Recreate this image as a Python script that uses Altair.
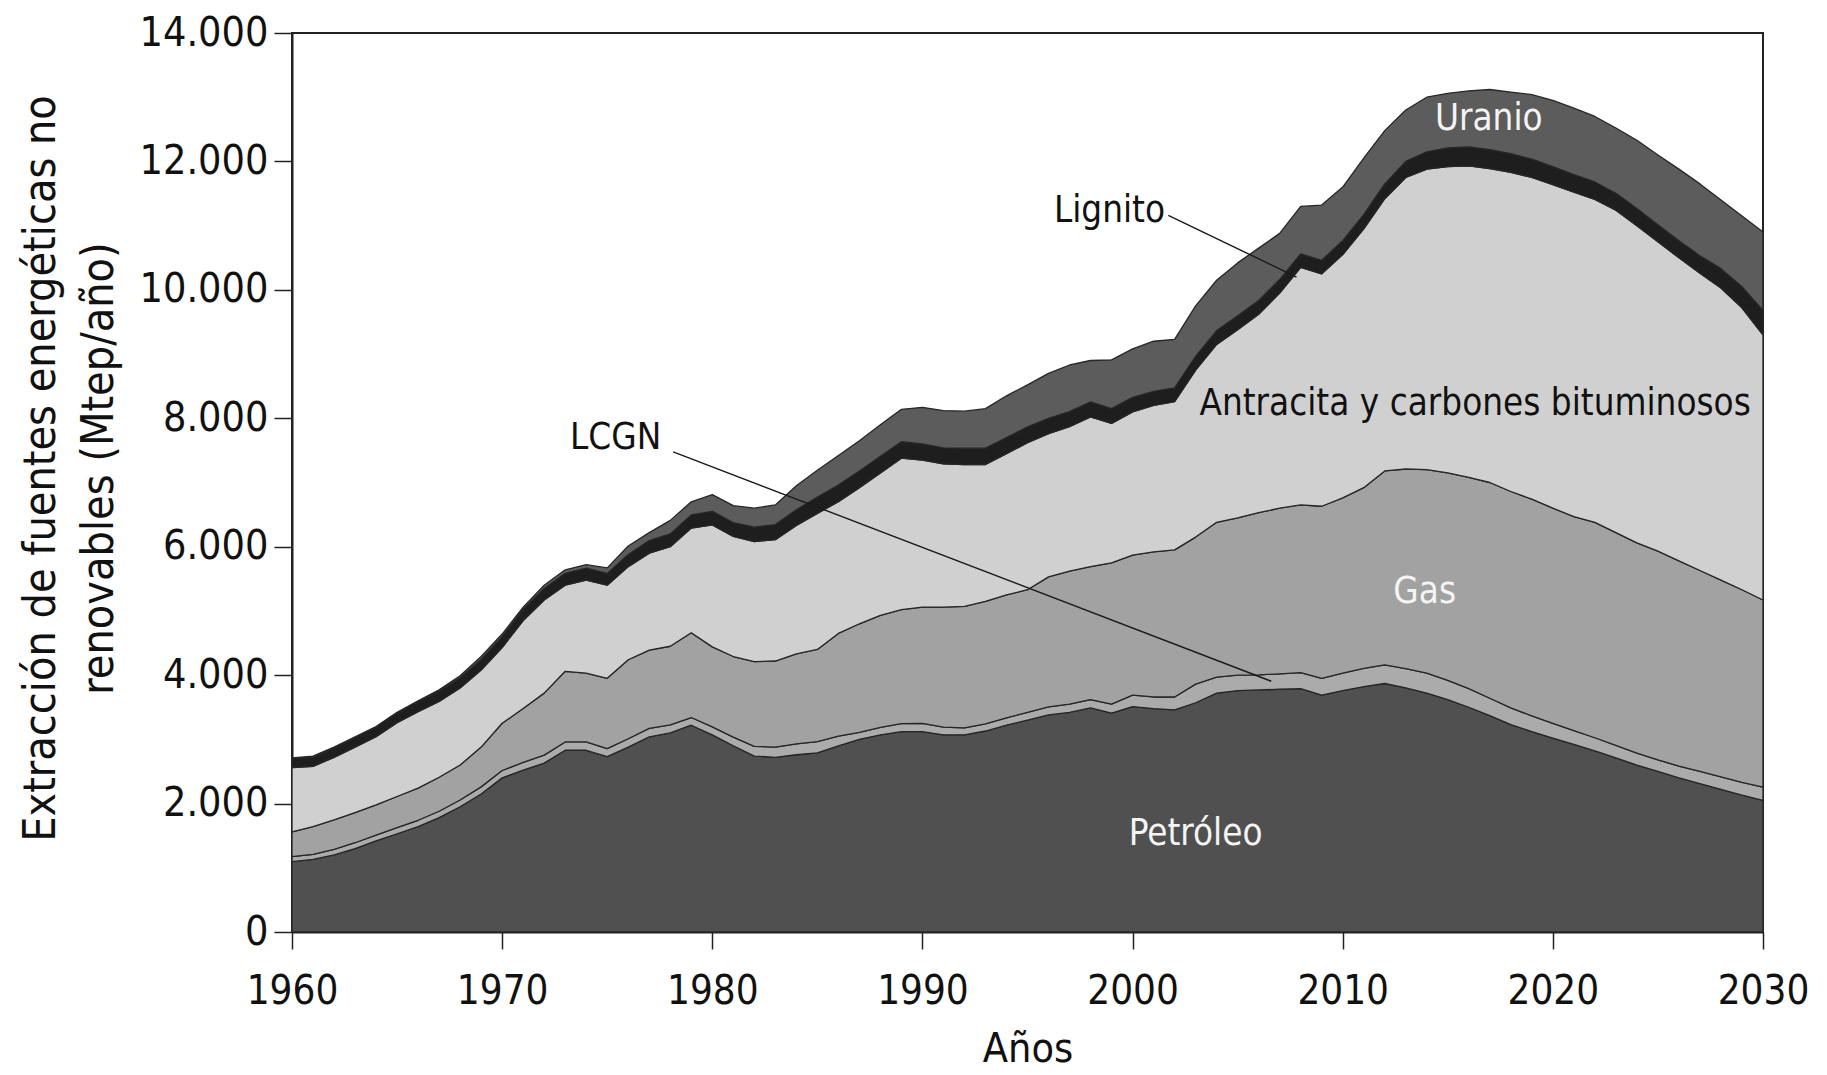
import altair as alt
import pandas as pd

years = list(range(1960, 2031))

petroleo = [1095, 1130, 1200, 1300, 1420, 1530, 1640, 1780, 1950, 2150,
            2400, 2520, 2630, 2830, 2830, 2730, 2880, 3040, 3100, 3220,
            3070, 2900, 2740, 2720, 2760, 2790, 2900, 3000, 3070, 3120,
            3120, 3070, 3070, 3130, 3220, 3300, 3380, 3420, 3490, 3410,
            3510, 3480, 3460, 3570, 3720, 3760, 3770, 3780, 3790, 3690,
            3760, 3820, 3870, 3800, 3720, 3620, 3500, 3370, 3230, 3120,
            3020, 2920, 2820, 2710, 2600, 2500, 2400, 2310, 2220, 2130,
            2050]
lcgn = [80, 80, 85, 90, 90, 95, 100, 100, 105, 110,
        115, 120, 125, 130, 130, 125, 130, 130, 125, 120,
        125, 135, 150, 160, 170, 175, 150, 110, 115, 125,
        130, 120, 110, 110, 115, 120, 125, 130, 130, 140,
        180, 180, 200, 290, 250, 240, 235, 240, 250, 260,
        270, 285, 290, 300, 310, 300, 290, 270, 260, 245,
        230, 215, 205, 195, 185, 180, 185, 190, 195, 200,
        205]
gas = [385, 430, 460, 470, 470, 485, 500, 530, 545, 620,
       735, 840, 965, 1100, 1070, 1095, 1230, 1220, 1225, 1320,
       1245, 1255, 1320, 1340, 1400, 1435, 1600, 1690, 1745, 1775,
       1810, 1870, 1890, 1910, 1915, 1910, 2025, 2070, 2070, 2200,
       2180, 2260, 2290, 2290, 2410, 2450, 2525, 2580, 2610, 2680,
       2730, 2815, 3020, 3110, 3170, 3230, 3290, 3360, 3370, 3375,
       3350, 3335, 3355, 3315, 3275, 3250, 3195, 3130, 3065, 3000,
       2915]
antracita = [1000, 940, 975, 1020, 1060, 1150, 1190, 1180, 1200, 1200,
             1180, 1370, 1450, 1340, 1450, 1450, 1450, 1510, 1550, 1630,
             1900, 1870, 1870, 1890, 2000, 2120, 2050, 2120, 2220, 2360,
             2290, 2230, 2210, 2130, 2200, 2290, 2230, 2250, 2330, 2170,
             2230, 2280, 2310, 2600, 2770, 2930, 3090, 3350, 3700, 3620,
             3790, 4030, 4240, 4540, 4680, 4770, 4850, 4890, 4970, 5010,
             5040, 5050, 5030, 5020, 4940, 4820, 4720, 4630, 4550, 4390,
             4130]
lignito = [140, 140, 145, 145, 150, 150, 155, 160, 160, 165,
           170, 175, 180, 185, 185, 185, 190, 195, 200, 205,
           210, 215, 225, 235, 245, 255, 260, 260, 260, 255,
           250, 250, 255, 255, 250, 245, 240, 235, 235, 230,
           225, 220, 215, 215, 215, 215, 215, 210, 210, 210,
           215, 220, 230, 250, 270, 290, 295, 295, 290, 285,
           280, 275, 270, 265, 265, 265, 265, 270, 300, 330,
           380]
uranio = [10, 20, 15, 15, 10, 10, 15, 20, 30, 45,
          40, 35, 50, 55, 55, 85, 130, 125, 210, 205,
          260, 265, 295, 305, 375, 415, 460, 470, 490, 505,
          570, 580, 575, 615, 650, 655, 700, 725, 645, 760,
          755, 780, 755, 785, 785, 825, 815, 720, 740, 860,
          835, 880, 830, 800, 850, 850, 875, 935, 960, 1005,
          1030, 1035, 1020, 1015, 1065, 1085, 1115, 1120, 1070, 1100,
          1220]

series = ["Petróleo", "LCGN", "Gas", "Antracita y carbones bituminosos", "Lignito", "Uranio"]
colors = ["#505050", "#ababab", "#a2a2a2", "#d0d0d0", "#1e1e1e", "#5c5c5c"]
values = [petroleo, lcgn, gas, antracita, lignito, uranio]

rows = []
for k, (name, vals) in enumerate(zip(series, values)):
    for yr, v in zip(years, vals):
        rows.append({"year": yr, "serie": name, "value": v, "ord": k})
df = pd.DataFrame(rows)

label_text = ["Uranio", "Lignito", "Antracita y carbones bituminosos", "LCGN", "Gas", "Petróleo"]
label_x = [2016.95, 1998.9, 2016.3, 1975.4, 2013.9, 2003.0]
label_y = [12660, 11230, 8224, 7695, 5296, 1526]
label_color = ["#f4f4f4", "#111111", "#111111", "#111111", "#f4f4f4", "#f4f4f4"]
labels = pd.DataFrame({"t": label_text, "x": label_x, "y": label_y, "c": label_color})

lead_x = [1978.14, 2001.7]
lead_y = [7477, 11160]
lead_x2 = [2006.6, 2007.8]
lead_y2 = [3905, 10200]
leaders = pd.DataFrame({"x": lead_x, "y": lead_y, "x2": lead_x2, "y2": lead_y2})

x_ticks = [1960, 1970, 1980, 1990, 2000, 2010, 2020, 2030]
y_ticks = [0, 2000, 4000, 6000, 8000, 10000, 12000, 14000]

FONT = "DejaVu Sans Condensed, Liberation Sans, sans-serif"

xscale = alt.Scale(domain=[1960, 2030], nice=False, zero=False)
yscale = alt.Scale(domain=[0, 14000], nice=False)

areas = alt.Chart(df).mark_area(stroke="#262626", strokeWidth=1.3, strokeJoin="round").encode(
    x=alt.X("year:Q", scale=xscale,
            axis=alt.Axis(values=x_ticks, format="d", title="Años", grid=False,
                          tickSize=17, tickWidth=1.5, tickColor="#222222",
                          domainColor="#222222", domainWidth=2,
                          labelFont=FONT, labelFontSize=40, labelColor="#111111",
                          labelPadding=22, labelFlush=False,
                          titleFont=FONT, titleFontSize=41, titleFontWeight="normal",
                          titleColor="#111111", titleY=97)),
    y=alt.Y("value:Q", stack="zero", scale=yscale,
            axis=alt.Axis(values=y_ticks, grid=False,
                          labelExpr="datum.value == 0 ? '0' : replace(format(datum.value, ','), ',', '.')",
                          tickSize=18, tickWidth=1.5, tickColor="#222222",
                          domainColor="#222222", domainWidth=2,
                          labelFont=FONT, labelFontSize=41, labelColor="#111111",
                          labelPadding=6,
                          title=["Extracción de fuentes energéticas no", "renovables (Mtep/año)"],
                          titleFont=FONT, titleFontSize=44.5, titleFontWeight="normal",
                          titleColor="#111111", titleLineHeight=58,
                          titleX=-229, titleY=435)),
    color=alt.Color("serie:N", scale=alt.Scale(domain=series, range=colors), legend=None),
    order=alt.Order("ord:Q", sort="ascending"),
)

rules = alt.Chart(leaders).mark_rule(color="#1a1a1a", strokeWidth=1.4).encode(
    x=alt.X("x:Q", scale=xscale), y=alt.Y("y:Q", scale=yscale),
    x2="x2:Q", y2="y2:Q",
)

texts = alt.Chart(labels).mark_text(font=FONT, fontSize=36.5, align="center", baseline="middle").encode(
    x=alt.X("x:Q", scale=xscale), y=alt.Y("y:Q", scale=yscale),
    text="t:N", color=alt.Color("c:N", scale=None),
)

chart = alt.layer(areas, rules, texts).properties(
    width=1471, height=899,
    autosize=alt.AutoSizeParams(type="none"),
    padding={"left": 284, "top": 25, "right": 52, "bottom": 138},
    background="white",
).configure_view(stroke="#222222", strokeWidth=2)

chart.save("out.html", embed_options={"renderer": "svg", "actions": False})
